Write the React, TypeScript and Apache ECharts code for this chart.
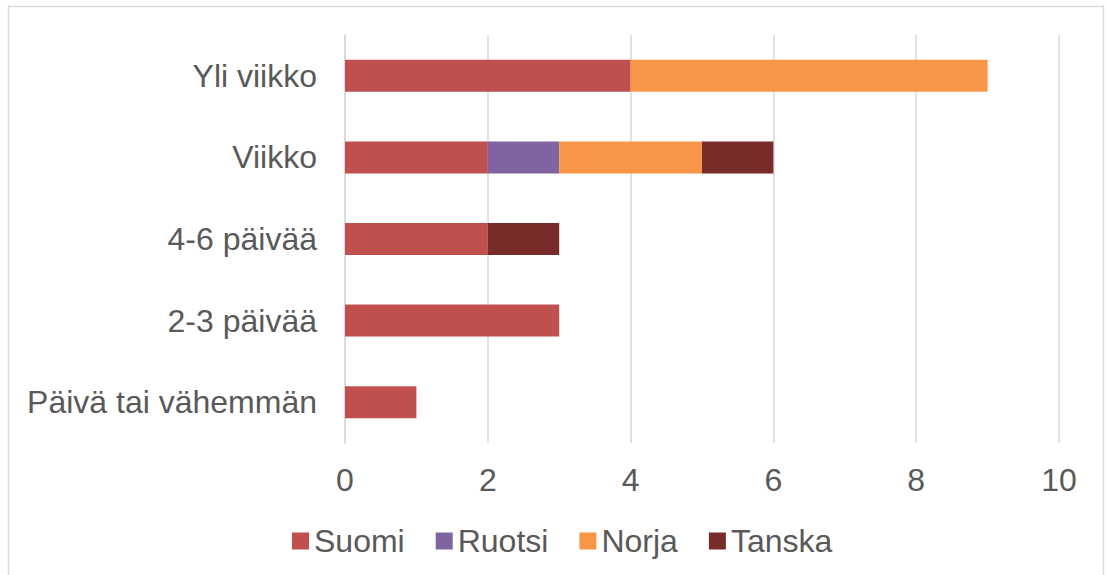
import React, { useEffect, useRef } from "react";
import * as echarts from "echarts";

const categories = ["Päivä tai vähemmän", "2-3 päivää", "4-6 päivää", "Viikko", "Yli viikko"];
const seriesNames = ["Suomi", "Ruotsi", "Norja", "Tanska"];
const suomi = [1, 3, 2, 2, 4];
const ruotsi = [0, 0, 0, 1, 0];
const norja = [0, 0, 0, 2, 5];
const tanska = [0, 0, 1, 1, 0];
const colors = ["#C0504D", "#8064A2", "#F79646", "#772C2A"];
const xTicks = [0, 2, 4, 6, 8, 10];

export default function App() {
  const ref = useRef<HTMLDivElement>(null);
  useEffect(() => {
    if (!ref.current) return;
    const chart = echarts.init(ref.current, null, { renderer: "svg" });
    const values = [suomi, ruotsi, norja, tanska];
    const font = "Liberation Sans, Arial, sans-serif";
    chart.setOption({
      animation: false,
      textStyle: { fontFamily: font },
      grid: { left: 345, right: 47, top: 35, bottom: 132, containLabel: false },
      legend: {
        data: seriesNames,
        left: 292,
        top: 525,
        padding: 0,
        icon: "rect",
        itemWidth: 17,
        itemHeight: 17,
        itemGap: 31,
        textStyle: { fontSize: 32, color: "#595959", fontFamily: font },
        selectedMode: false,
      },
      xAxis: {
        type: "value",
        min: xTicks[0],
        max: xTicks[xTicks.length - 1],
        interval: 2,
        axisLine: { show: false },
        axisTick: { show: false },
        splitLine: { show: true, lineStyle: { color: "#d9d9d9", width: 1.5 } },
        axisLabel: { fontSize: 32, color: "#595959", margin: 21, fontFamily: font },
      },
      yAxis: {
        type: "category",
        data: categories,
        axisLine: { show: true, lineStyle: { color: "#d9d9d9", width: 1.5 } },
        axisTick: { show: false },
        axisLabel: { fontSize: 32, color: "#595959", margin: 28, fontFamily: font },
      },
      series: seriesNames.map((name, i) => ({
        name,
        type: "bar",
        stack: "total",
        barWidth: 32,
        itemStyle: { color: colors[i] },
        data: values[i],
      })),
      graphic: [
        {
          type: "rect",
          shape: { x: 8.5, y: 6.5, width: 1095, height: 600 },
          style: { fill: "none", stroke: "#d9d9d9", lineWidth: 1.5 },
          silent: true,
        },
      ],
    });
    return () => chart.dispose();
  }, []);
  return (
    <div
      ref={ref}
      style={{ position: "fixed", left: 0, top: 0, width: 1106, height: 575, background: "#fff" }}
    />
  );
}
